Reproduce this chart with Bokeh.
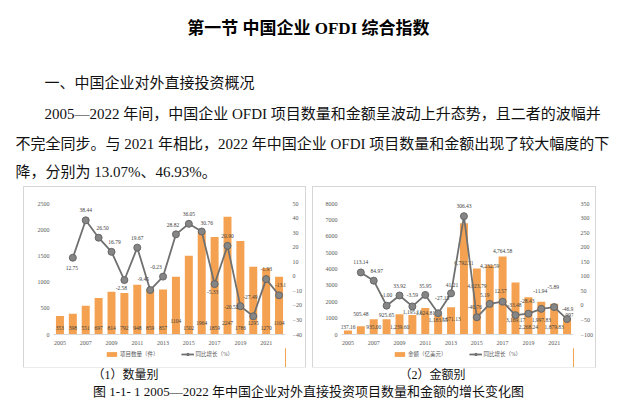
from bokeh.plotting import figure
from bokeh.models import (Range1d, LinearAxis, SingleIntervalTicker, FixedTicker, Label,
                          Legend, LegendItem, ColumnDataSource, Spacer)
from bokeh.layouts import column, row
from bokeh.core.properties import value
from bokeh.embed import file_html
from bokeh.resources import INLINE

# ---------------- data ----------------
years = list(range(2005, 2023))
x_tick_years = [2005, 2007, 2009, 2011, 2013, 2015, 2017, 2019, 2021]

project_counts = [353, 398, 551, 697, 814, 792, 948, 859, 857, 1104, 1502, 1964,
                  1859, 2247, 1786, 1295, 1270, 1104]
count_growth = [None, 12.75, 38.44, 26.50, 16.79, -2.58, 19.67, -9.45, -0.23, 28.82,
                36.05, 30.76, -5.33, 20.90, -20.52, -27.49, -1.93, -13.07]

amounts = [237.16, 505.48, 935.00, 925.65, 1239.60, 1195.11, 1624.81, 1183.55, 1671.13,
           6792.71, 4023.79, 4232.59, 4764.58, 3169.17, 2268.24, 1997.83, 1879.83, 997.64]
amount_growth = [None, 113.14, 84.97, -1.00, 33.92, -3.59, 35.95, -27.15, 41.21, 306.43,
                 -40.76, 5.19, 12.57, -33.48, -28.43, -11.94, -5.89, -46.93]

# ---------------- styles ----------------
FONT = "'Liberation Serif', 'Noto Sans CJK SC'"
BAR = "#F4A251"
LINE = "#707070"
TXT = "#404040"
AX = "#595959"

# label placement (pixels) - styling only
count_bar_dy = [-7] * 9 + [-14, -7, -12, -7, -12, -7, -12, -7, -12]
count_line_off = [(-1, 10), (0, -10), (4, -10), (3, -10), (-3, 8), (0, -10), (-7, -11),
                  (-7, -10), (-3, -9), (0, -10), (5, -9), (-2, 8), (0, -10), (-9, 1),
                  (-3, -19), (0, -10), (3, -10)]
amount_bar_anchor = ["base", "top", "base", "top", "base", "top", "top", "top", "top",
                     "top", "top", "top", "top", "base", "base", "base", "base", "top"]
amount_bar_dy = [-8, -12, -8, -4, -8, -3, 5, 5, 12, 40, 17, 1, -5, -15, -8, -15, -8, -3]
amount_bar_dx = [0] * 17 + [6]
amount_line_off = [(0, -10), (3, -10), (0, -11), (0, -10), (0, -11), (0, -9), (4, -15),
                   (1, -8), (0, -10), (-2, -10), (-5, -9), (-2, -11), (-1, -10), (-1, -13),
                   (-1, -18), (-1, -20), (2, -10)]

CH_H = 161      # chart figure height
LEG_H = 19      # legend strip height
PAGE_W = 632


def make_chart(width, bl, br, bars, bar_labels, bar_y, bar_dx, bar_dy,
               growth, line_off, ymax, yint, prange, pint, unit_l, unit_r, leg_bar, frame_w):
    p = figure(width=width, height=CH_H, x_range=Range1d(2004.5, 2022.5),
               y_range=Range1d(0, ymax), output_backend="svg", toolbar_location=None,
               min_border_left=bl, min_border_right=br, min_border_top=16,
               min_border_bottom=CH_H - 16 - 131, outline_line_color=None,
               background_fill_color="white", border_fill_color="white")
    p.xgrid.visible = False
    p.ygrid.visible = False
    p.extra_y_ranges = {"pct": Range1d(*prange)}

    p.yaxis.ticker = SingleIntervalTicker(interval=yint)
    rax = LinearAxis(y_range_name="pct", ticker=SingleIntervalTicker(interval=pint))
    p.add_layout(rax, "right")
    p.xaxis.ticker = FixedTicker(ticks=x_tick_years)
    for ax in [p.yaxis[0], rax, p.xaxis[0]]:
        ax.major_tick_line_color = None
        ax.minor_tick_line_color = None
        ax.major_tick_in = 0
        ax.major_tick_out = 0
        ax.minor_tick_out = 0
        ax.major_label_text_font = FONT
        ax.major_label_text_font_size = "6px"
        ax.major_label_text_color = AX
    p.yaxis[0].axis_line_color = None
    rax.axis_line_color = None
    p.yaxis[0].major_label_standoff = 4
    rax.major_label_standoff = 7
    p.xaxis[0].axis_line_color = "#d9d9d9"
    p.xaxis[0].major_label_standoff = 6

    bsrc = ColumnDataSource(dict(x=years, top=bars, ly=bar_y, txt=bar_labels,
                                 dx=bar_dx, dy=bar_dy))
    p.vbar(x="x", top="top", width=0.62, source=bsrc, fill_color=BAR, line_color=None)
    p.text(x="x", y="ly", text="txt", x_offset="dx", y_offset="dy", source=bsrc,
           text_font=value(FONT), text_font_size=value("5.5px"), text_color=TXT,
           text_align="center", text_baseline="middle")

    lsrc = ColumnDataSource(dict(x=years[1:], y=growth[1:],
                                 txt=[f"{v:.2f}" for v in growth[1:]],
                                 dx=[o[0] for o in line_off], dy=[o[1] for o in line_off]))
    p.line(x="x", y="y", source=lsrc, y_range_name="pct", line_color=LINE, line_width=1.8)
    p.scatter(x="x", y="y", source=lsrc, y_range_name="pct", size=7,
              fill_color="#858585", line_color="#666666", line_width=1)
    p.text(x="x", y="y", text="txt", x_offset="dx", y_offset="dy", source=lsrc,
           y_range_name="pct", text_font=value(FONT), text_font_size=value("5.5px"),
           text_color=TXT, text_align="center", text_baseline="middle")

    p.add_layout(Label(x=-17, y=142, x_units="screen", y_units="screen", text=unit_l,
                       text_font=FONT, text_font_size="6px", text_color=AX,
                       text_align="left", text_baseline="middle"))
    p.add_layout(Label(x=frame_w + 10, y=142, x_units="screen", y_units="screen", text=unit_r,
                       text_font=FONT, text_font_size="6px", text_color=AX,
                       text_align="left", text_baseline="middle"))

    # legend strip (inside the same bordered panel); its own copies of the series lie
    # outside its visible range, only the legend glyphs show
    lf = figure(width=width, height=LEG_H, x_range=Range1d(0, 1), y_range=Range1d(0, 1),
                output_backend="svg", toolbar_location=None, min_border=0,
                x_axis_type=None, y_axis_type=None, outline_line_color=None)
    lf.xgrid.visible = False
    lf.ygrid.visible = False
    kb = lf.vbar(x="x", top="top", width=0.62, source=bsrc, fill_color=BAR, line_color=None)
    kl = lf.line(x="x", y="y", source=lsrc, line_color=LINE, line_width=1.8)
    ks = lf.scatter(x="x", y="y", source=lsrc, size=5, fill_color="#858585",
                    line_color="#666666")
    legend = Legend(items=[LegendItem(label=leg_bar, renderers=[kb]),
                           LegendItem(label="同比增长（%）", renderers=[kl, ks])],
                    orientation="horizontal", location="top_center", border_line_color=None,
                    background_fill_alpha=0, label_text_font=FONT,
                    label_text_font_size="5.5px", label_text_color=AX,
                    glyph_width=13, glyph_height=6, spacing=22, padding=0, margin=2,
                    label_standoff=2, label_height=8)
    lf.add_layout(legend, "center")

    return column(p, lf, styles={"outline": "1px solid #d6d6d6"})


count_labels = [str(v) for v in project_counts]
chart1 = make_chart(281, 29, 20, project_counts, count_labels, [0] * 18, [0] * 18,
                    count_bar_dy, count_growth, count_line_off, 2500, 500, (-40, 50), 10,
                    "件", "%", "项目数量（件）", 232)

amount_labels = [f"{v:,.2f}" for v in amounts]
amount_label_y = [0 if a == "base" else v for a, v in zip(amount_bar_anchor, amounts)]
chart2 = make_chart(282, 28, 22, amounts, amount_labels, amount_label_y, amount_bar_dx,
                    amount_bar_dy, amount_growth, amount_line_off, 8000, 1000, (-100, 350), 50,
                    "亿美元", "%", "金额（亿美元）", 232)

# ---------------- page texts ----------------
def text_fig(height, y0, y1):
    f = figure(width=PAGE_W, height=height, x_range=Range1d(0, PAGE_W),
               y_range=Range1d(y1, y0), output_backend="svg", toolbar_location=None,
               min_border=0, x_axis_type=None, y_axis_type=None, outline_line_color=None)
    f.xgrid.visible = False
    f.ygrid.visible = False
    return f

top = text_fig(187, 0, 187)
top.add_layout(Label(x=310, y=28, text="第一节  中国企业 OFDI 综合指数", text_font=FONT,
                     text_font_size="17px", text_font_style="bold", text_color="#000000",
                     text_align="center", text_baseline="middle"))
para = [(44, 82, "一、中国企业对外直接投资概况"),
        (44, 113, "2005—2022 年间，中国企业 OFDI 项目数量和金额呈波动上升态势，且二者的波幅并"),
        (15, 143, "不完全同步。与 2021 年相比，2022 年中国企业 OFDI 项目数量和金额出现了较大幅度的下"),
        (15, 171, "降，分别为 13.07%、46.93%。")]
for x, y, t in para:
    top.add_layout(Label(x=x, y=y, text=t, text_font=FONT, text_font_size="15px",
                         text_color="#111111", text_align="left", text_baseline="middle"))

bottom = text_fig(45, 367, 412)
bottom.add_layout(Label(x=125, y=374, text="（1）数量别", text_font=FONT, text_font_size="12px",
                        text_color="#111111", text_align="center", text_baseline="middle"))
bottom.add_layout(Label(x=432, y=374, text="（2）金额别", text_font=FONT, text_font_size="12px",
                        text_color="#111111", text_align="center", text_baseline="middle"))
bottom.add_layout(Label(x=308, y=391,
                        text="图 1-1- 1 2005—2022 年中国企业对外直接投资项目数量和金额的增长变化图",
                        text_font=FONT, text_font_size="13px", text_color="#111111",
                        text_align="center", text_baseline="middle"))

middle = row(Spacer(width=24, height=180), chart1, Spacer(width=8, height=180), chart2,
             Spacer(width=PAGE_W - 24 - 281 - 8 - 282, height=180))
page = column(top, middle, bottom)

open("out.html", "w").write(file_html(page, INLINE))
